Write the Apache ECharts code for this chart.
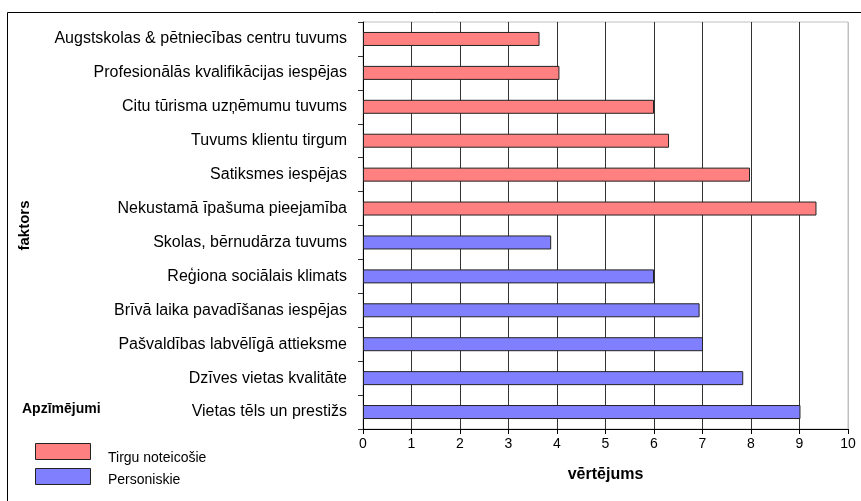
<!DOCTYPE html>
<html>
<head>
<meta charset="utf-8">
<script src="https://cdn.jsdelivr.net/npm/echarts@6/dist/echarts.min.js"></script>
<style>html,body{margin:0;padding:0;background:#fff;}#c{width:861px;height:501px;}</style>
</head>
<body>
<div id="c"></div>
<script>
const categories = [
  'Augstskolas & pētniecības centru tuvums',
  'Profesionālās kvalifikācijas iespējas',
  'Citu tūrisma uzņēmumu tuvums',
  'Tuvums klientu tirgum',
  'Satiksmes iespējas',
  'Nekustamā īpašuma pieejamība',
  'Skolas, bērnudārza tuvums',
  'Reģiona sociālais klimats',
  'Brīvā laika pavadīšanas iespējas',
  'Pašvaldības labvēlīgā attieksme',
  'Dzīves vietas kvalitāte',
  'Vietas tēls un prestižs'
];
const seriesNames = ['Tirgu noteicošie', 'Personiskie'];
const tirguValues = [3.64, 4.05, 6.0, 6.31, 7.98, 9.35, '-', '-', '-', '-', '-', '-'];
const personiskieValues = ['-', '-', '-', '-', '-', '-', 3.88, 6.0, 6.94, 7.01, 7.84, 9.02];
const xTicks = [0, 1, 2, 3, 4, 5, 6, 7, 8, 9, 10];
const colors = ['#FF8080', '#8080FF'];

const font = 'Liberation Sans, Arial, sans-serif';
const chart = echarts.init(document.getElementById('c'), null, {renderer: 'canvas'});
const splitColors = xTicks.map((t, i) => i === xTicks.length - 1 ? '#c0c0c0' : '#333333');

chart.setOption({
  backgroundColor: '#ffffff',
  animation: false,
  grid: {left: 363, right: 13, top: 22, bottom: 72, show: true, borderColor: '#c0c0c0', borderWidth: 1},
  xAxis: {
    type: 'value', min: xTicks[0], max: xTicks[xTicks.length - 1], interval: 1,
    name: 'vērtējums', nameLocation: 'middle', nameGap: 38,
    nameTextStyle: {fontFamily: font, fontSize: 16, fontWeight: 'bold', color: '#000'},
    axisLine: {show: true, lineStyle: {color: '#000', width: 1}},
    axisTick: {show: true, length: 5, lineStyle: {color: '#000'}},
    axisLabel: {fontFamily: font, fontSize: 14, color: '#000', margin: 8},
    splitLine: {show: true, lineStyle: {color: splitColors, width: 1}}
  },
  yAxis: {
    type: 'category', data: categories, inverse: true,
    name: 'faktors', nameLocation: 'middle', nameRotate: 90, nameGap: 331,
    nameTextStyle: {fontFamily: font, fontSize: 15, fontWeight: 'bold', color: '#000'},
    axisLine: {show: true, lineStyle: {color: '#000', width: 1}},
    axisTick: {show: true, length: 5, lineStyle: {color: '#333'}},
    axisLabel: {fontFamily: font, fontSize: 16, color: '#000', margin: 16}
  },
  series: [
    {name: seriesNames[0], type: 'bar', stack: 'all', data: tirguValues, barWidth: 14,
     itemStyle: {color: colors[0], borderColor: '#222', borderWidth: 1}},
    {name: seriesNames[1], type: 'bar', stack: 'all', data: personiskieValues, barWidth: 14,
     itemStyle: {color: colors[1], borderColor: '#222', borderWidth: 1}}
  ],
  graphic: [
    {type: 'rect', shape: {x: 7.5, y: 12.5, width: 900, height: 600}, style: {fill: 'none', stroke: '#000', lineWidth: 1}, silent: true, z: 100},
    {type: 'text', left: 22, top: 402, style: {text: 'Apzīmējumi', font: 'bold 14px ' + font, fill: '#000'}},
    {type: 'rect', shape: {x: 35.5, y: 443.5, width: 55, height: 16}, style: {fill: colors[0], stroke: '#222', lineWidth: 1}},
    {type: 'text', x: 108, y: 458, style: {text: seriesNames[0], font: '14px ' + font, fill: '#000', verticalAlign: 'middle'}},
    {type: 'rect', shape: {x: 35.5, y: 468.5, width: 55, height: 16}, style: {fill: colors[1], stroke: '#222', lineWidth: 1}},
    {type: 'text', x: 108, y: 480, style: {text: seriesNames[1], font: '14px ' + font, fill: '#000', verticalAlign: 'middle'}}
  ]
});
</script>
</body>
</html>
